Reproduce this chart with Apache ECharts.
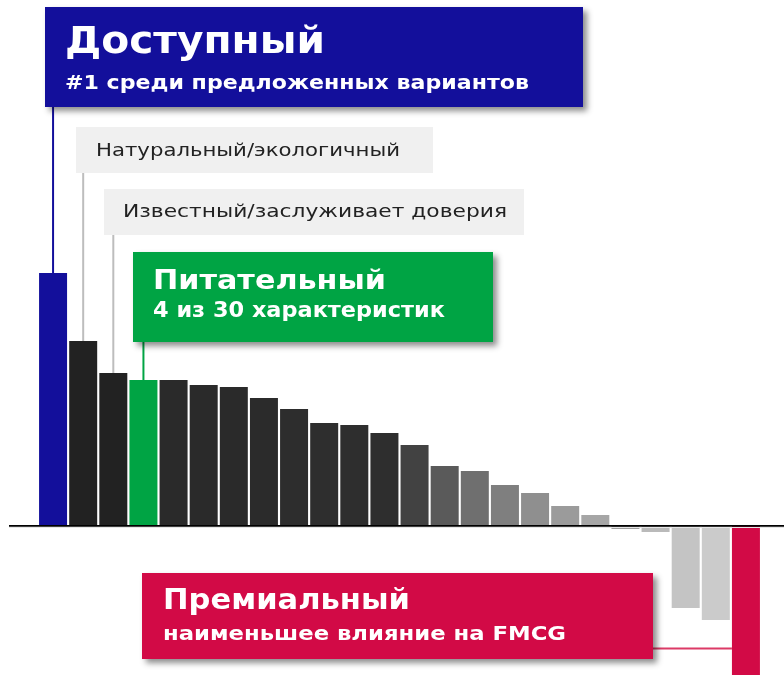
<!DOCTYPE html>
<html>
<head>
<meta charset="utf-8">
<script src="https://cdn.jsdelivr.net/npm/echarts@6/dist/echarts.min.js"></script>
<style>
html,body{margin:0;padding:0;background:#fff;}
#chart{width:784px;height:675px;}
</style>
</head>
<body>
<div id="chart"></div>
<script>
// ---- data ----
const categories = [
  'Доступный', 'Натуральный/экологичный', 'Известный/заслуживает доверия', 'Питательный',
  'Хар. 5', 'Хар. 6', 'Хар. 7', 'Хар. 8', 'Хар. 9', 'Хар. 10', 'Хар. 11', 'Хар. 12',
  'Хар. 13', 'Хар. 14', 'Хар. 15', 'Хар. 16', 'Хар. 17', 'Хар. 18', 'Хар. 19', 'Хар. 20',
  'Хар. 21', 'Хар. 22', 'Хар. 23', 'Премиальный'
];
const values = [252, 184, 152, 145, 145, 140, 138, 127, 116, 102, 100, 92,
                80, 59, 54, 40, 32, 19, 10, -4, -7, -83, -95, -150];

// ---- styles (kept separate from data) ----
const barColors = ['#130f9b', '#222222', '#222222', '#00a444', '#2a2a2a', '#2a2a2a', '#2a2a2a', '#2b2b2b',
  '#2d2d2d', '#2e2e2e', '#2e2e2e', '#2e2e2e', '#424242', '#5a5a5a', '#6f6f6f', '#7f7f7f',
  '#8f8f8f', '#9b9b9b', '#a6a6a6', '#a0a0a0', '#bababa', '#c4c4c4', '#cbcbcb', '#d20a46'];
const BLUE = '#130f9b', GREEN = '#00a444', RED = '#d20a46', GRAYBOX = '#f0f0f0';
const FAMILY = '"DejaVu Sans", sans-serif';

const chart = echarts.init(document.getElementById('chart'), null, {renderer: 'canvas'});
chart.setOption({
  animation: false,
  backgroundColor: '#ffffff',
  grid: {left: 38, right: 23, top: 0, bottom: 0},
  xAxis: {
    type: 'category', data: categories,
    axisLine: {show: false}, axisTick: {show: false}, axisLabel: {show: false}
  },
  yAxis: {
    type: 'value', min: -150, max: 525,
    show: false, splitLine: {show: false}
  },
  series: [{
    type: 'bar', data: values, barWidth: 28,
    itemStyle: {color: p => barColors[p.dataIndex]}
  }]
});

// measure text to stretch it horizontally to the reference width
const cv = document.createElement('canvas').getContext('2d');
function measure(text, weight, size) {
  cv.font = weight + ' ' + size + 'px ' + FAMILY;
  return cv.measureText(text).width;
}

function px(i, v) { return chart.convertToPixel({gridIndex: 0}, [i, v]); }
const zeroY = px(0, 0)[1];
const half = 14;

function box(x, y, w, h, fill, shadow) {
  const el = {type: 'rect', shape: {x, y, width: w, height: h}, style: {fill}, z: 20};
  if (shadow) {
    el.style.shadowBlur = 6; el.style.shadowOffsetX = 4; el.style.shadowOffsetY = 4;
    el.style.shadowColor = 'rgba(0,0,0,0.45)';
  }
  return el;
}
function txt(text, x, y, weight, size, width, fill) {
  const sx = width / measure(text, weight, size);
  return {type: 'text', x, y, z: 30, scaleX: sx, style: {
    text, fill, fontFamily: FAMILY, fontWeight: weight,
    fontSize: size, verticalAlign: 'middle', align: 'left'
  }};
}
function vline(i, y1, color) {
  const p = px(i, values[i]);
  return {type: 'line', z: 15, shape: {x1: p[0], y1, x2: p[0], y2: p[1]}, style: {stroke: color, lineWidth: 2}};
}

const redBar = px(23, values[23]);
const graphic = [
  {type: 'line', z: 10, shape: {x1: 9, y1: zeroY + 0.9, x2: 784, y2: zeroY + 0.9}, style: {stroke: '#000', lineWidth: 1.8}},
  {type: 'line', z: 9, shape: {x1: 9, y1: zeroY + 2.5, x2: 784, y2: zeroY + 2.5}, style: {stroke: '#e6e6e6', lineWidth: 1}},
  vline(0, 107, BLUE),
  vline(1, 172, '#bdbdbd'),
  vline(2, 235, '#bdbdbd'),
  vline(3, 342, GREEN),
  {type: 'line', z: 15, shape: {x1: 652, y1: 648.5, x2: redBar[0] - half, y2: 648.5}, style: {stroke: '#dc3a66', lineWidth: 2}},
  box(45, 7, 538, 100, BLUE, true),
  txt('Доступный', 65, 43, 'bold', 38, 260, '#fff'),
  txt('#1 среди предложенных вариантов', 65, 84, 'bold', 20, 464, '#fff'),
  box(76, 127, 357, 46, GRAYBOX, false),
  txt('Натуральный/экологичный', 96, 151, 'normal', 18, 304, '#222'),
  box(104, 189, 420, 46, GRAYBOX, false),
  txt('Известный/заслуживает доверия', 123, 212, 'normal', 18, 384, '#222'),
  box(133, 252, 360, 90, GREEN, true),
  txt('Питательный', 153, 282, 'bold', 27, 233, '#fff'),
  txt('4 из 30 характеристик', 153, 312, 'bold', 20.5, 292, '#fff'),
  box(142, 573, 511, 86, RED, true),
  txt('Премиальный', 163, 602, 'bold', 28, 247, '#fff'),
  txt('наименьшее влияние на FMCG', 163, 635, 'bold', 20, 403, '#fff')
];
chart.setOption({graphic});
</script>
</body>
</html>
